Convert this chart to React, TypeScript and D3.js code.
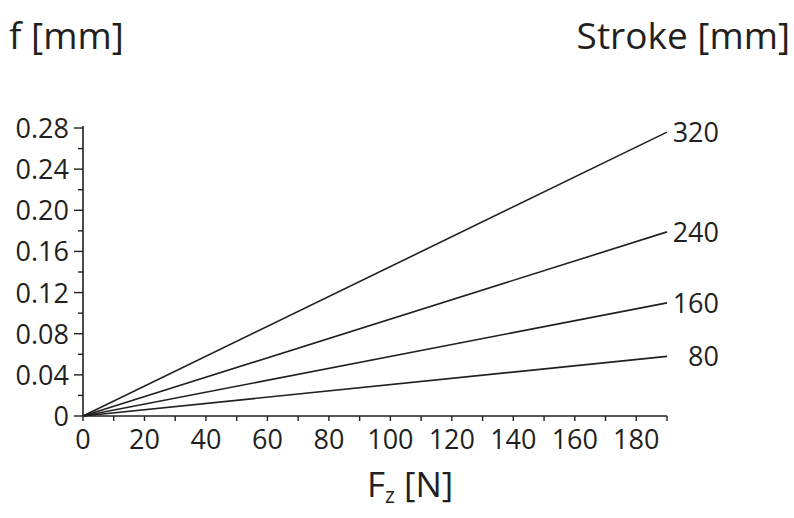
import React from 'react';
import * as d3 from 'd3';

const width = 794;
const height = 518;

// stroke lengths [mm] and deflection f [mm] at Fz = 190 N
const strokes = [320, 240, 160, 80];
const fAtMax = [0.276, 0.179, 0.11, 0.058];
const forces = [0, 190];
const yTickLabels = ['0', '0.04', '0.08', '0.12', '0.16', '0.20', '0.24', '0.28'];
const xTickLabels = [0, 20, 40, 60, 80, 100, 120, 140, 160, 180];

const margin = { left: 83, right: 127, top: 128, bottom: 102 };
const font = '"Open Sans", Lato, sans-serif';
const ink = '#231f20';

const x = d3.scaleLinear().domain([0, 190]).range([margin.left, width - margin.right]);
const y = d3.scaleLinear().domain([0, 0.28]).range([height - margin.bottom, margin.top]);

const line = d3
  .line<[number, number]>()
  .x(d => x(d[0]))
  .y(d => y(d[1]));

const App = () => {
  const y0 = y(0);
  const minorY = d3.range(0, 0.2801, 0.02);
  const minorX = d3.range(0, 191, 10);

  return (
    <svg
      width={width}
      height={height}
      style={{ position: 'absolute', left: 0, top: 0, background: '#fff' }}
      fontFamily={font}
    >
      <text x={9} y={49} fontSize={37} fill={ink}>f [mm]</text>
      <text x={790} y={49} fontSize={37} fill={ink} textAnchor="end">Stroke [mm]</text>

      {/* y axis */}
      <line x1={x(0)} x2={x(0)} y1={y(0)} y2={y(0.28) - 2} stroke={ink} strokeWidth={1.6} />
      {minorY.map((v, i) => (
        <line
          key={'yt' + i}
          x1={x(0) - (i % 2 === 0 ? 9 : 5)}
          x2={x(0)}
          y1={y(v)}
          y2={y(v)}
          stroke={ink}
          strokeWidth={1.4}
        />
      ))}
      {yTickLabels.map((t, i) => (
        <text
          key={'yl' + i}
          x={x(0) - 14}
          y={y(i * 0.04) + 10}
          fontSize={27}
          textAnchor="end"
          fill={ink}
        >
          {t}
        </text>
      ))}

      {/* x axis */}
      <line x1={x(0)} x2={x(190)} y1={y0} y2={y0} stroke={ink} strokeWidth={1.6} />
      {minorX.map((v, i) => (
        <line key={'xt' + i} x1={x(v)} x2={x(v)} y1={y0} y2={y0 + 5} stroke={ink} strokeWidth={1.4} />
      ))}
      {xTickLabels.map(v => (
        <text key={'xl' + v} x={x(v)} y={y0 + 33} fontSize={27} textAnchor="middle" fill={ink}>
          {v}
        </text>
      ))}
      <text x={367} y={497} fontSize={35} fill={ink}>
        F<tspan fontSize={21} dy={6}>z</tspan>
        <tspan dy={-6}> [N]</tspan>
      </text>

      {/* series */}
      {strokes.map((s, i) => (
        <g key={s}>
          <path
            d={line(forces.map(F => [F, (fAtMax[i] * F) / 190]) as [number, number][]) || ''}
            fill="none"
            stroke={ink}
            strokeWidth={1.6}
          />
          <text
            x={x(190) + 52}
            y={y(fAtMax[i]) + 10}
            fontSize={27}
            textAnchor="end"
            fill={ink}
          >
            {s}
          </text>
        </g>
      ))}
    </svg>
  );
};

export default App;
